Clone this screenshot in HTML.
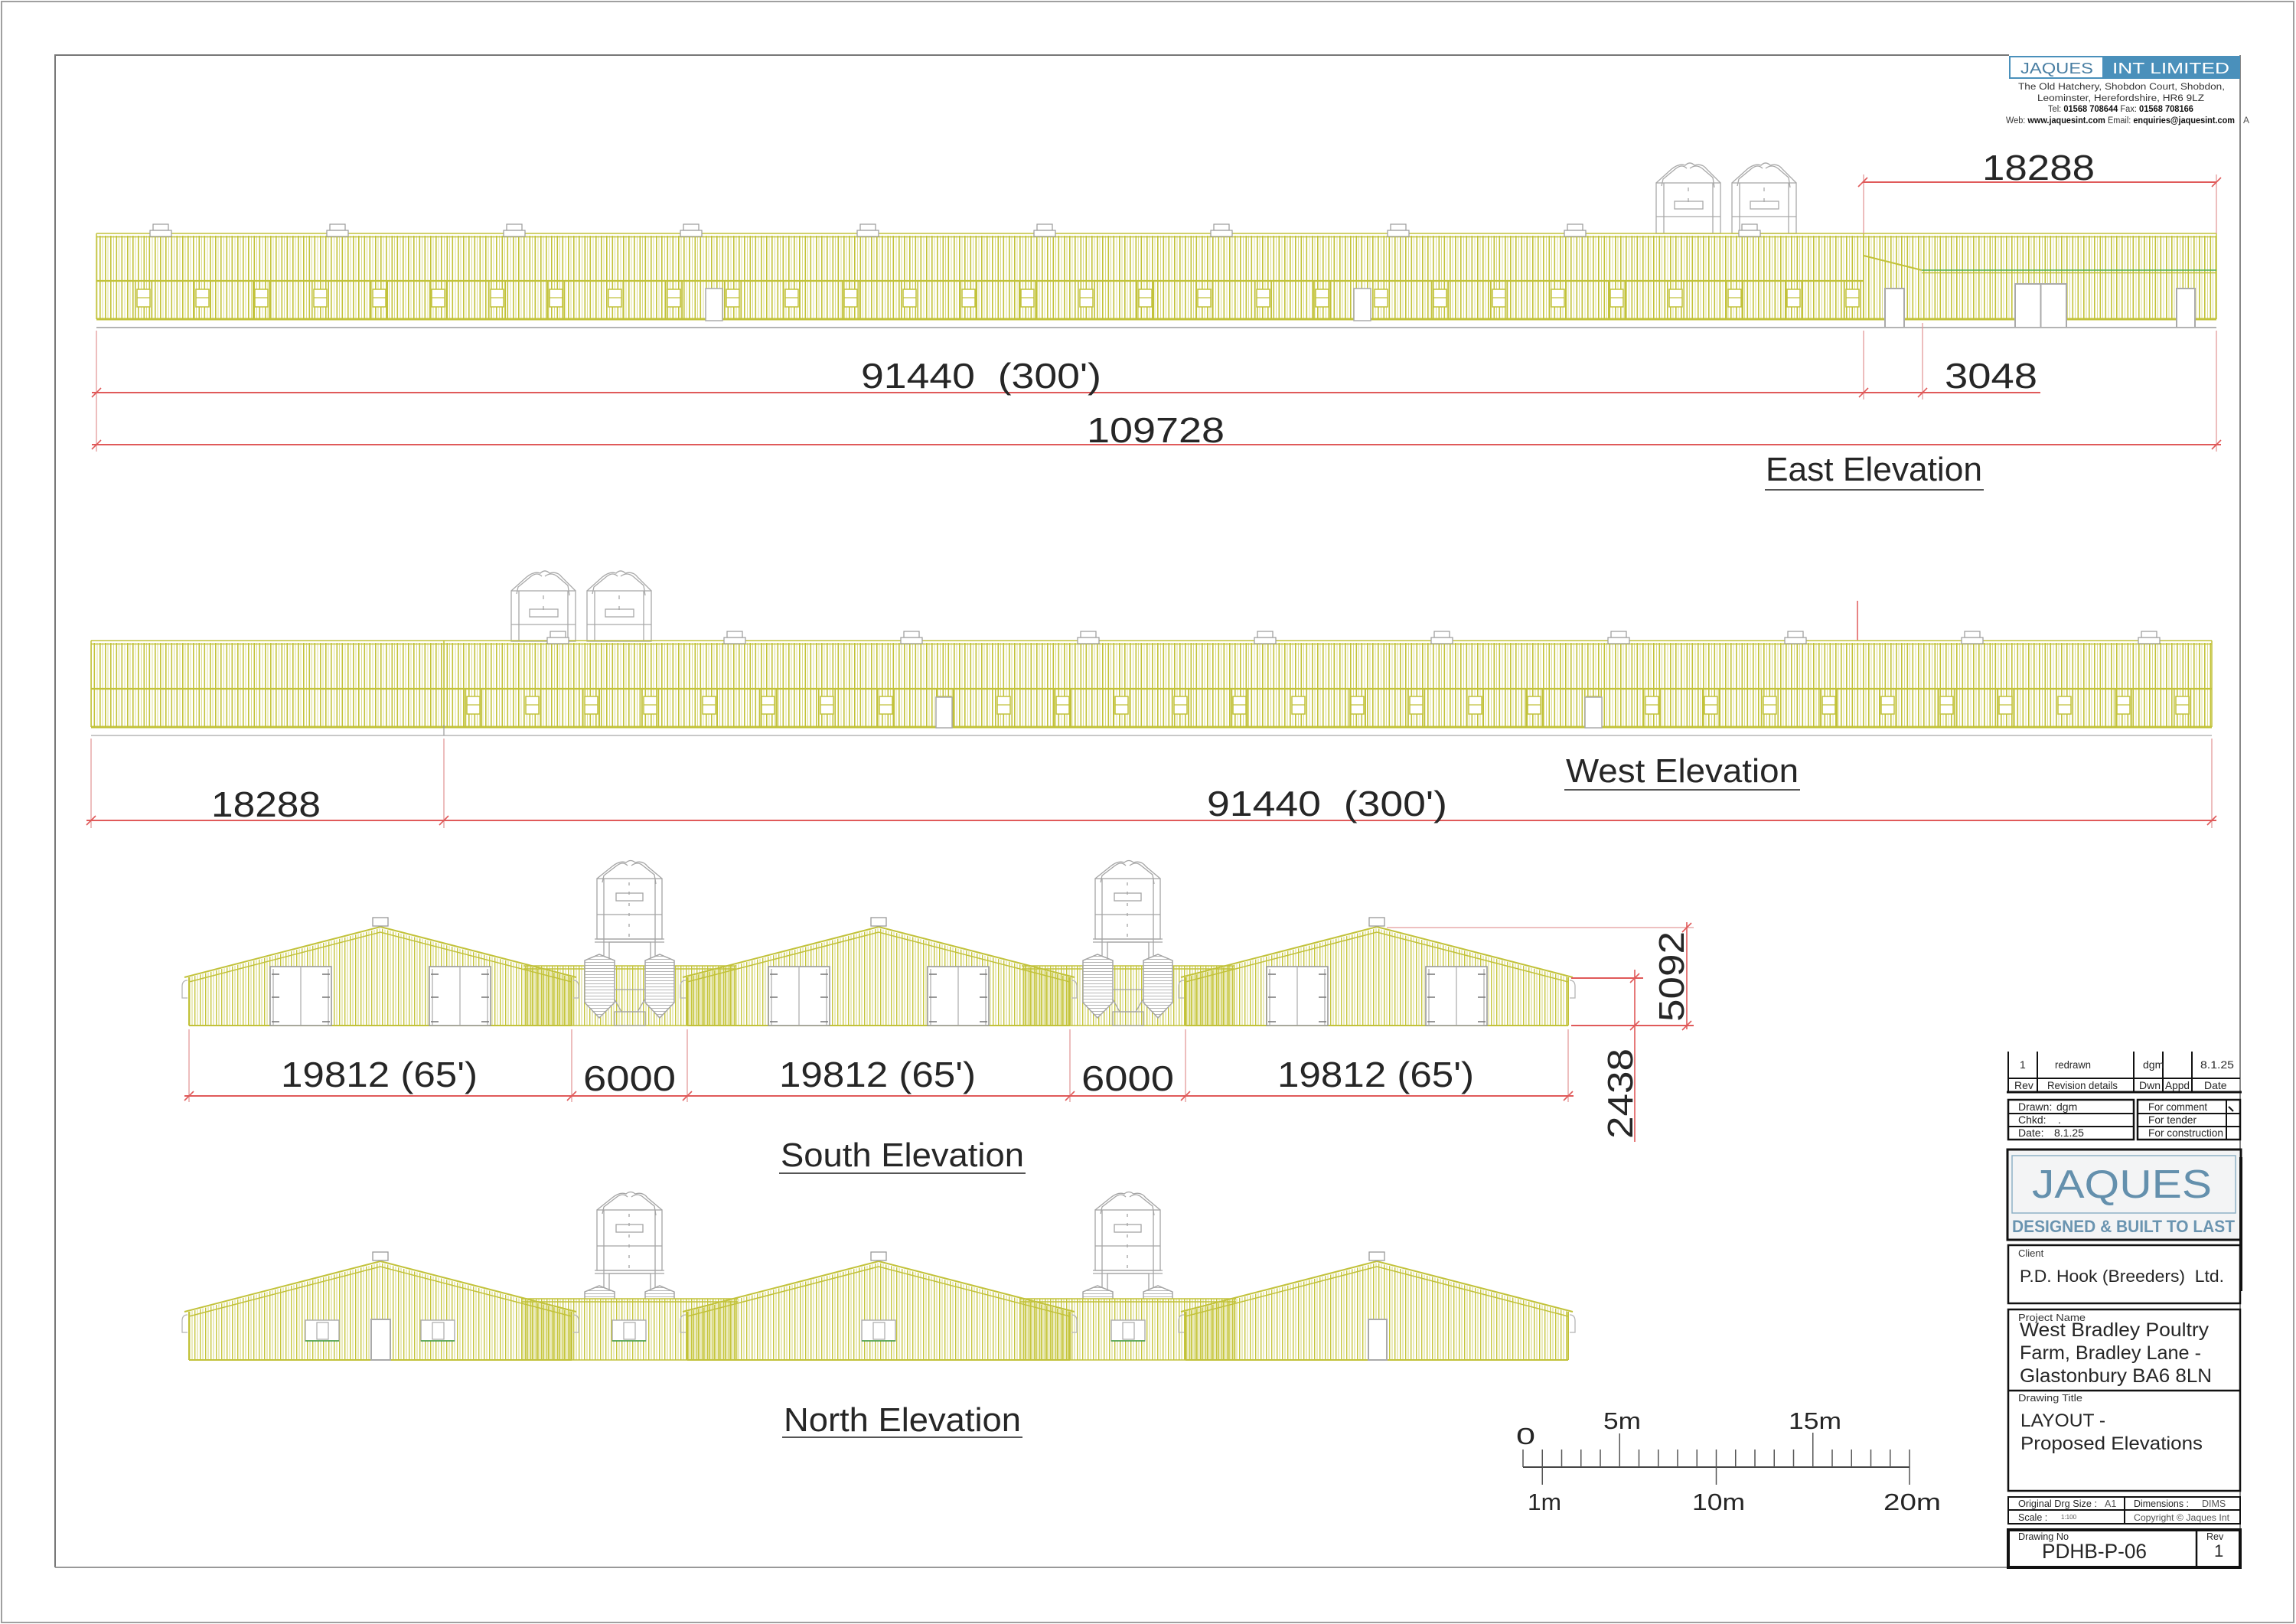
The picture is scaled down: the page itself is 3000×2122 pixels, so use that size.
<!DOCTYPE html>
<html><head><meta charset="utf-8"><style>
html,body{margin:0;padding:0;background:#fff}
svg{display:block}
.c{font-family:"Liberation Sans",sans-serif;fill:#262626}
.g{font-family:"Liberation Sans",sans-serif;fill:#333}
.s{font-family:"Liberation Sans",sans-serif;fill:#555}
</style></head><body>
<svg xmlns="http://www.w3.org/2000/svg" xmlns:xlink="http://www.w3.org/1999/xlink" width="3000" height="2122" viewBox="0 0 3000 2122">
<defs>
 <pattern id="pA" patternUnits="userSpaceOnUse" width="36" height="8">
  <rect x="0" width="1.6" height="8" fill="#c3c338"/>
  <rect x="4" width="1" height="8" fill="#dcdc8c"/>
  <rect x="7.5" width="1.6" height="8" fill="#c3c338"/>
  <rect x="11" width="1" height="8" fill="#dcdc8c"/>
  <rect x="14.5" width="1.6" height="8" fill="#c3c338"/>
  <rect x="18.5" width="1" height="8" fill="#e0e09a"/>
  <rect x="22" width="1.6" height="8" fill="#c3c338"/>
  <rect x="25.5" width="1" height="8" fill="#dcdc8c"/>
  <rect x="29" width="1.6" height="8" fill="#c3c338"/>
  <rect x="32.5" width="1" height="8" fill="#e0e09a"/>
 </pattern>
 <pattern id="pB" patternUnits="userSpaceOnUse" width="7" height="8">
  <rect x="0" width="1.4" height="8" fill="#c6c63c"/>
  <rect x="3.5" width="1" height="8" fill="#d6d67a"/>
 </pattern>
 <pattern id="pH" patternUnits="userSpaceOnUse" width="8" height="4">
  <rect x="0" y="0" width="8" height="1" fill="#b5b5b5"/>
 </pattern>
 <pattern id="winE" patternUnits="userSpaceOnUse" x="176" y="0" width="77" height="2122">
  <rect x="3" y="378" width="17" height="23" fill="#fff" stroke="#c2c23a" stroke-width="1.5"/>
  <line x1="3" y1="389" x2="20" y2="389" stroke="#c2c23a" stroke-width="1.2"/>
  <line x1="0.8" y1="367" x2="0.8" y2="417" stroke="#c2c23a" stroke-width="1.6"/>
  <line x1="22.2" y1="367" x2="22.2" y2="417" stroke="#c2c23a" stroke-width="1.6"/>
 </pattern>
 <pattern id="winW" patternUnits="userSpaceOnUse" x="607" y="0" width="77" height="2122">
  <rect x="3" y="910" width="17" height="23" fill="#fff" stroke="#c2c23a" stroke-width="1.5"/>
  <line x1="3" y1="921" x2="20" y2="921" stroke="#c2c23a" stroke-width="1.2"/>
  <line x1="0.8" y1="900" x2="0.8" y2="950" stroke="#c2c23a" stroke-width="1.6"/>
  <line x1="22.2" y1="900" x2="22.2" y2="950" stroke="#c2c23a" stroke-width="1.6"/>
 </pattern>
 <g id="siloE" fill="none" stroke="#a9a9a9" stroke-width="1.3">
  <rect x="0" y="27" width="84" height="66" fill="#fff"/>
  <path d="M0,27 L20,9 Q30,1 38,4 Q44,-2 50,4 Q60,1 66,9 L84,27"/>
  <path d="M7,31 L9,22 L26,8 Q34,2 40,8 M44,8 Q52,2 60,8 L74,20 L76,33"/>
  <path d="M10,27 V93 M74,27 V93 M0,71 H84"/>
  <rect x="24" y="51" width="37" height="10"/>
  <path d="M42,33 v5 M42,47 v5"/>
 </g>
 <g id="siloS" fill="none" stroke="#a5a5a5" stroke-width="1.3">
  <rect x="0" y="23" width="85" height="79" fill="#fff"/>
  <path d="M0,23 L20,7 Q30,-1 38,2 Q44,-3 50,2 Q60,-1 66,7 L85,23"/>
  <path d="M7,28 L9,19 L26,6 Q34,0 40,6 M45,6 Q53,0 60,6 L75,18 L77,30"/>
  <path d="M0,70 H85 M9,23 V150 M76,23 V150"/>
  <rect x="25" y="42" width="35" height="10"/>
  <path d="M42,28v4 M42,40v4 M42,55v4 M42,68v4 M42,82v4 M42,95v4"/>
  <path d="M-3,102 H88 M-3,106 H88"/>
  <rect x="16" y="106" width="54" height="62"/>
  <path d="M16,168 L32,197 H53 L70,168"/>
  <rect x="23" y="197" width="40" height="18"/>
  <path d="M-16,130 L3,122 L23,130 V185 L3,205 L-16,185 Z" fill="#fff"/>
  <path d="M-16,130 L3,122 L23,130 V185 L3,205 L-16,185 Z" fill="url(#pH)"/>
  <path d="M63,130 L82,122 L101,130 V185 L82,205 L63,185 Z" fill="#fff"/>
  <path d="M63,130 L82,122 L101,130 V185 L82,205 L63,185 Z" fill="url(#pH)"/>
 </g>
 <g id="gable">
  <polygon points="0,64 250,0 500,64 500,127 0,127" fill="url(#pB)"/>
  <polyline points="-6,64 250,-2 506,64" fill="none" stroke="#c2c23a" stroke-width="2"/>
  <polyline points="0,70 250,5 500,70" fill="none" stroke="#c2c23a" stroke-width="1.5"/>
  <path d="M0,64 V127 M500,64 V127 M0,127 H500" stroke="#c2c23a" stroke-width="2" fill="none"/>
  <path d="M-2,68 q-7,0 -7,8 v15 h7 M502,68 q7,0 7,8 v15 h-7" fill="none" stroke="#b5b5b5" stroke-width="1.3"/>
  <rect x="240" y="-14" width="20" height="11" fill="#fff" stroke="#999" stroke-width="1.3"/>
 </g>
 <g id="ddoor">
  <rect x="0" y="0" width="80" height="77" fill="#fff" stroke="#999" stroke-width="1.6"/>
  <path d="M40,0 V77 M4,3 V77 M76,3 V77" stroke="#aaa" stroke-width="1.2" fill="none"/>
  <path d="M2,10 h10 M2,40 h10 M2,72 h10 M68,10 h10 M68,40 h10 M68,72 h10" stroke="#777" stroke-width="1.6"/>
 </g>
 <g id="nwin">
  <rect x="0" y="0" width="44" height="27" fill="#fff" stroke="#aaa" stroke-width="1.4"/>
  <rect x="15" y="3" width="15" height="22" fill="none" stroke="#aaa" stroke-width="1.2"/>
  <line x1="0" y1="27" x2="44" y2="27" stroke="#3c9c3c" stroke-width="1.6"/>
 </g>
 <g id="chim">
  <rect x="-10" y="0" width="20" height="8" fill="#fff" stroke="#9a9a9a" stroke-width="1.2"/>
  <rect x="-14" y="8" width="28" height="8" fill="#fff" stroke="#9a9a9a" stroke-width="1.2"/>
 </g>
</defs>

<!-- borders -->
<rect x="2" y="2" width="2995" height="2118" fill="none" stroke="#a0a0a0" stroke-width="2"/>
<path d="M72,2048 V72 H2625" fill="none" stroke="#777" stroke-width="2"/>
<path d="M72,2048 H2623" fill="none" stroke="#999" stroke-width="2"/>
<path d="M2927,72 V2048" fill="none" stroke="#888" stroke-width="2"/>

<!-- ================= EAST ELEVATION ================= -->
<use xlink:href="#siloE" x="2164" y="212"/>
<use xlink:href="#siloE" x="2263" y="212"/>
<rect x="126" y="308" width="2770" height="109" fill="url(#pA)"/>
<path d="M126,305 H2896 M126,309.5 H2896" stroke="#c2c23a" stroke-width="1.5"/>
<path d="M126,367 H2435" stroke="#c2c23a" stroke-width="2.2"/>
<path d="M126,417 H2896" stroke="#c2c23a" stroke-width="3"/>
<path d="M126,305 V417 M2896,305 V417 M2435,305 V417" stroke="#c2c23a" stroke-width="1.5"/>
<rect x="176" y="360" width="2258" height="60" fill="url(#winE)"/>
<path d="M2435,334 L2511,353" stroke="#c2c23a" stroke-width="2"/>
<path d="M2511,353 H2896" stroke="#4caf50" stroke-width="1.6"/>
<path d="M2511,356.5 H2896" stroke="#c2c23a" stroke-width="1.5"/>
<rect x="922" y="377" width="22" height="42" fill="#fff" stroke="#aaa" stroke-width="1.5"/>
<rect x="1769" y="377" width="22" height="42" fill="#fff" stroke="#aaa" stroke-width="1.5"/>
<rect x="2463" y="377" width="25" height="51" fill="#fff" stroke="#aaa" stroke-width="2"/>
<rect x="2633" y="371" width="67" height="57" fill="#fff" stroke="#aaa" stroke-width="2"/>
<path d="M2666.5,371 V428" stroke="#aaa" stroke-width="2"/>
<rect x="2844" y="377" width="24" height="51" fill="#fff" stroke="#aaa" stroke-width="2"/>
<g>
<use xlink:href="#chim" x="210" y="293"/><use xlink:href="#chim" x="441" y="293"/><use xlink:href="#chim" x="672" y="293"/><use xlink:href="#chim" x="903" y="293"/><use xlink:href="#chim" x="1134" y="293"/><use xlink:href="#chim" x="1365" y="293"/><use xlink:href="#chim" x="1596" y="293"/><use xlink:href="#chim" x="1827" y="293"/><use xlink:href="#chim" x="2058" y="293"/><use xlink:href="#chim" x="2286" y="293"/>
</g>
<path d="M126,428 H2896" stroke="#b4b4b4" stroke-width="2"/>
<!-- east dims -->
<g stroke="#e39a9a" stroke-width="1.3" fill="none">
 <path d="M2435,228 V305 M2435,432 V522 M2896,228 V305 M2896,432 V590 M126,432 V590 M2512,422 V522"/>
</g>
<g stroke="#e05a5a" stroke-width="2" fill="none">
 <path d="M2434,238 H2896"/>
 <path d="M120,513 H2666"/>
 <path d="M120,581 H2902"/>
 <path d="M2428,244 L2440,232 M2890,244 L2902,232 M120,519 L132,507 M2429,519 L2441,507 M2506,519 L2518,507 M120,587 L132,575 M2890,587 L2902,575" stroke-width="1.6"/>
</g>
<text class="c" x="2590" y="235" font-size="46" textLength="147" lengthAdjust="spacingAndGlyphs">18288</text>
<text class="c" x="1125" y="507" font-size="46" textLength="314" lengthAdjust="spacingAndGlyphs">91440&#160;&#160;(300')</text>
<text class="c" x="2541" y="507" font-size="46" textLength="121" lengthAdjust="spacingAndGlyphs">3048</text>
<text class="c" x="1420" y="578" font-size="46" textLength="180" lengthAdjust="spacingAndGlyphs">109728</text>
<text class="c" x="2307" y="628" font-size="44" textLength="283" lengthAdjust="spacingAndGlyphs">East Elevation</text>
<path d="M2306,640 H2592" stroke="#555" stroke-width="2"/>

<!-- ================= WEST ELEVATION ================= -->
<use xlink:href="#siloE" x="668" y="745"/>
<use xlink:href="#siloE" x="767" y="745"/>
<path d="M2427,785 V837" stroke="#e05a5a" stroke-width="1.5"/>
<rect x="119" y="840" width="2771" height="110" fill="url(#pA)"/>
<path d="M119,837 H2890 M119,841.5 H2890" stroke="#c2c23a" stroke-width="1.5"/>
<path d="M119,900 H2890" stroke="#c2c23a" stroke-width="2.2"/>
<path d="M119,950 H2890" stroke="#c2c23a" stroke-width="3"/>
<path d="M119,837 V950 M2890,837 V950 M580,837 V950" stroke="#c2c23a" stroke-width="1.5"/>
<rect x="607" y="895" width="2257" height="60" fill="url(#winW)"/>
<rect x="1223" y="911" width="21" height="40" fill="#fff" stroke="#aaa" stroke-width="1.5"/>
<rect x="2071" y="911" width="22" height="40" fill="#fff" stroke="#aaa" stroke-width="1.5"/>
<g>
<use xlink:href="#chim" x="729" y="825"/><use xlink:href="#chim" x="960" y="825"/><use xlink:href="#chim" x="1191" y="825"/><use xlink:href="#chim" x="1422" y="825"/><use xlink:href="#chim" x="1653" y="825"/><use xlink:href="#chim" x="1884" y="825"/><use xlink:href="#chim" x="2115" y="825"/><use xlink:href="#chim" x="2346" y="825"/><use xlink:href="#chim" x="2577" y="825"/><use xlink:href="#chim" x="2808" y="825"/>
</g>
<path d="M119,961 H2890" stroke="#c8c8c8" stroke-width="2"/>
<path d="M580,947 V961" stroke="#999" stroke-width="1.2"/>
<g stroke="#e39a9a" stroke-width="1.3" fill="none">
 <path d="M119,965 V1082 M580,965 V1082 M2890,965 V1082"/>
</g>
<g stroke="#e05a5a" stroke-width="2" fill="none">
 <path d="M113,1072 H2896"/>
 <path d="M113,1078 L125,1066 M574,1078 L586,1066 M2884,1078 L2896,1066" stroke-width="1.6"/>
</g>
<text class="c" x="276" y="1067" font-size="46" textLength="143" lengthAdjust="spacingAndGlyphs">18288</text>
<text class="c" x="1577" y="1066" font-size="46" textLength="314" lengthAdjust="spacingAndGlyphs">91440&#160;&#160;(300')</text>
<text class="c" x="2046" y="1022" font-size="44" textLength="304" lengthAdjust="spacingAndGlyphs">West Elevation</text>
<path d="M2044,1032 H2352" stroke="#555" stroke-width="2"/>

<!-- ================= SOUTH ELEVATION ================= -->
<rect x="684" y="1262" width="277" height="78" fill="url(#pB)"/>
<rect x="1335" y="1262" width="277" height="78" fill="url(#pB)"/>
<use xlink:href="#gable" transform="translate(247,1213)"/>
<use xlink:href="#gable" transform="translate(898,1213)"/>
<use xlink:href="#gable" transform="translate(1549,1213)"/>
<path d="M684,1262 H961 M684,1266 H961 M1335,1262 H1612 M1335,1266 H1612 M747,1340 H898 M1398,1340 H1549" stroke="#c2c23a" stroke-width="1.6"/>
<use xlink:href="#ddoor" x="353" y="1263"/>
<use xlink:href="#ddoor" x="561" y="1263"/>
<use xlink:href="#ddoor" x="1004" y="1263"/>
<use xlink:href="#ddoor" x="1212" y="1263"/>
<use xlink:href="#ddoor" x="1655" y="1263"/>
<use xlink:href="#ddoor" x="1863" y="1263"/>
<use xlink:href="#siloS" x="780" y="1125"/>
<use xlink:href="#siloS" x="1431" y="1125"/>
<g stroke="#e39a9a" stroke-width="1.3" fill="none">
 <path d="M247,1345 V1440 M747,1345 V1440 M898,1345 V1440 M1398,1345 V1440 M1549,1345 V1440 M2049,1345 V1440"/>
 <path d="M1812,1212 H2213"/>
</g>
<g stroke="#e05a5a" stroke-width="2" fill="none">
 <path d="M241,1432 H2056"/>
 <path d="M2053,1278 H2147 M2053,1340 H2213"/>
 <path d="M2136,1267 V1492 M2204,1205 V1345" stroke-width="1.6"/>
 <path d="M241,1438 L253,1426 M741,1438 L753,1426 M892,1438 L904,1426 M1392,1438 L1404,1426 M1543,1438 L1555,1426 M2043,1438 L2055,1426 M2130,1284 L2142,1272 M2130,1346 L2142,1334 M2198,1218 L2210,1206 M2198,1346 L2210,1334" stroke-width="1.6"/>
</g>
<text class="c" x="367" y="1420" font-size="46" textLength="257" lengthAdjust="spacingAndGlyphs">19812 (65')</text>
<text class="c" x="1018" y="1420" font-size="46" textLength="257" lengthAdjust="spacingAndGlyphs">19812 (65')</text>
<text class="c" x="1669" y="1420" font-size="46" textLength="257" lengthAdjust="spacingAndGlyphs">19812 (65')</text>
<text class="c" x="762" y="1425" font-size="46" textLength="121" lengthAdjust="spacingAndGlyphs">6000</text>
<text class="c" x="1413" y="1425" font-size="46" textLength="121" lengthAdjust="spacingAndGlyphs">6000</text>
<text class="c" font-size="46" textLength="118" lengthAdjust="spacingAndGlyphs" transform="translate(2200,1335) rotate(-90)">5092</text>
<text class="c" font-size="46" textLength="118" lengthAdjust="spacingAndGlyphs" transform="translate(2133,1488) rotate(-90)">2438</text>
<text class="c" x="1020" y="1524" font-size="44" textLength="318" lengthAdjust="spacingAndGlyphs">South Elevation</text>
<path d="M1018,1533 H1340" stroke="#555" stroke-width="2"/>

<!-- ================= NORTH ELEVATION ================= -->
<use xlink:href="#siloS" x="780" y="1558"/>
<use xlink:href="#siloS" x="1431" y="1558"/>
<rect x="681" y="1697" width="283" height="80" fill="#fff"/>
<rect x="1332" y="1697" width="283" height="80" fill="#fff"/>
<rect x="681" y="1697" width="283" height="80" fill="url(#pB)"/>
<rect x="1332" y="1697" width="283" height="80" fill="url(#pB)"/>
<use xlink:href="#gable" transform="translate(247,1650)"/>
<use xlink:href="#gable" transform="translate(898,1650)"/>
<use xlink:href="#gable" transform="translate(1549,1650)"/>
<path d="M681,1697 H964 M681,1701 H964 M1332,1697 H1615 M1332,1701 H1615 M747,1777 H898 M1398,1777 H1549" stroke="#c2c23a" stroke-width="1.6"/>
<use xlink:href="#nwin" x="399" y="1725"/>
<use xlink:href="#nwin" x="550" y="1725"/>
<use xlink:href="#nwin" x="800" y="1725"/>
<use xlink:href="#nwin" x="1126" y="1725"/>
<use xlink:href="#nwin" x="1452" y="1725"/>
<rect x="485" y="1724" width="25" height="53" fill="#fff" stroke="#aaa" stroke-width="2"/>
<rect x="1788" y="1724" width="24" height="53" fill="#fff" stroke="#aaa" stroke-width="2"/>
<text class="c" x="1024" y="1870" font-size="44" textLength="310" lengthAdjust="spacingAndGlyphs">North Elevation</text>
<path d="M1022,1878 H1336" stroke="#555" stroke-width="2"/>

<!-- ================= SCALE BAR ================= -->
<path d="M1990,1917 H2495" stroke="#444" stroke-width="2"/>
<path d="M1990,1894V1917 M2015.25,1894V1940 M2040.5,1894V1917 M2065.75,1894V1917 M2091,1894V1917 M2116.25,1873V1917 M2141.5,1894V1917 M2166.75,1894V1917 M2192,1894V1917 M2217.25,1894V1917 M2242.5,1894V1940 M2267.75,1894V1917 M2293,1894V1917 M2318.25,1894V1917 M2343.5,1894V1917 M2368.75,1872V1917 M2394,1894V1917 M2419.25,1894V1917 M2444.5,1894V1917 M2469.75,1894V1917 M2495,1894V1940" stroke="#555" stroke-width="1.5"/>
<text class="c" x="1981" y="1887" font-size="31" textLength="25" lengthAdjust="spacingAndGlyphs">0</text>
<text class="c" x="2095" y="1867" font-size="31" textLength="49" lengthAdjust="spacingAndGlyphs">5m</text>
<text class="c" x="2337" y="1867" font-size="31" textLength="69" lengthAdjust="spacingAndGlyphs">15m</text>
<text class="c" x="1996" y="1973" font-size="31" textLength="44" lengthAdjust="spacingAndGlyphs">1m</text>
<text class="c" x="2211" y="1973" font-size="31" textLength="69" lengthAdjust="spacingAndGlyphs">10m</text>
<text class="c" x="2461" y="1973" font-size="31" textLength="75" lengthAdjust="spacingAndGlyphs">20m</text>

<!-- ================= HEADER LOGO ================= -->
<rect x="2625" y="73" width="302" height="30" fill="#4a90bb"/>
<rect x="2627" y="75" width="120" height="26" fill="#fff"/>
<text x="2640" y="96" font-size="20" textLength="95" lengthAdjust="spacingAndGlyphs" style="font-family:'Liberation Sans',sans-serif;fill:#4a7fa3">JAQUES</text>
<text x="2760" y="96" font-size="20" textLength="153" lengthAdjust="spacingAndGlyphs" style="font-family:'Liberation Sans',sans-serif;fill:#fff">INT LIMITED</text>
<text class="g" x="2637" y="117" font-size="11.5" textLength="270" lengthAdjust="spacingAndGlyphs">The Old Hatchery, Shobdon Court, Shobdon,</text>
<text class="g" x="2662" y="132" font-size="11.5" textLength="218" lengthAdjust="spacingAndGlyphs">Leominster, Herefordshire, HR6 9LZ</text>
<text class="g" x="2676" y="146" font-size="11.5" textLength="190" lengthAdjust="spacingAndGlyphs">Tel: <tspan font-weight="bold" fill="#111">01568 708644</tspan> Fax: <tspan font-weight="bold" fill="#111">01568 708166</tspan></text>
<text class="g" x="2621" y="161" font-size="11.5" textLength="299" lengthAdjust="spacingAndGlyphs">Web: <tspan font-weight="bold" fill="#111">www.jaquesint.com</tspan> Email: <tspan font-weight="bold" fill="#111">enquiries@jaquesint.com</tspan></text>
<text class="s" x="2931" y="161" font-size="12">A</text>

<!-- ================= TITLE BLOCK ================= -->
<g stroke="#111" stroke-width="2" fill="none">
 <path d="M2624,1374 V1427 M2662,1374 V1427 M2788,1374 V1427 M2826,1374 V1427 M2864,1374 V1427"/>
 <path d="M2624,1409 H2927"/>
 <path d="M2622,1427 H2929" stroke-width="3"/>
 <rect x="2624" y="1437" width="164" height="52" stroke-width="2.5"/>
 <path d="M2624,1455 H2788 M2624,1472 H2788"/>
 <rect x="2793" y="1437" width="134" height="52" stroke-width="2.5"/>
 <path d="M2793,1455 H2927 M2793,1472 H2927 M2909,1437 V1489"/>
</g>
<path d="M2912,1446 L2918,1452" stroke="#111" stroke-width="2"/>
<text class="c" x="2639" y="1396" font-size="14">1</text>
<text class="c" x="2685" y="1396" font-size="14" textLength="47" lengthAdjust="spacingAndGlyphs">redrawn</text>
<text class="c" x="2800" y="1396" font-size="14">dgm</text>
<text class="c" x="2875" y="1396" font-size="14" textLength="44" lengthAdjust="spacingAndGlyphs">8.1.25</text>
<text class="c" x="2632" y="1423" font-size="14">Rev</text>
<text class="c" x="2675" y="1423" font-size="14" textLength="92" lengthAdjust="spacingAndGlyphs">Revision details</text>
<text class="c" x="2795" y="1423" font-size="14">Dwn</text>
<text class="c" x="2829" y="1423" font-size="14" textLength="32" lengthAdjust="spacingAndGlyphs">Appd</text>
<text class="c" x="2880" y="1423" font-size="14">Date</text>
<text class="c" x="2637" y="1451" font-size="14">Drawn:</text>
<text class="c" x="2687" y="1451" font-size="14">dgm</text>
<text class="c" x="2637" y="1468" font-size="14">Chkd:</text>
<text class="c" x="2689" y="1468" font-size="14">.</text>
<text class="c" x="2637" y="1485" font-size="14">Date:</text>
<text class="c" x="2684" y="1485" font-size="14">8.1.25</text>
<text class="c" x="2807" y="1451" font-size="14" textLength="77" lengthAdjust="spacingAndGlyphs">For comment</text>
<text class="c" x="2807" y="1468" font-size="14" textLength="63" lengthAdjust="spacingAndGlyphs">For tender</text>
<text class="c" x="2807" y="1485" font-size="14" textLength="98" lengthAdjust="spacingAndGlyphs">For construction</text>

<rect x="2623" y="1502" width="305" height="118" fill="#f3f4f5" stroke="#111" stroke-width="3"/>
<rect x="2629" y="1510" width="292" height="75" fill="none" stroke="#8eb1c6" stroke-width="1.5"/>
<text x="2655" y="1565" font-size="52" textLength="235" lengthAdjust="spacingAndGlyphs" style="font-family:'Liberation Sans',sans-serif;fill:#6490ad">JAQUES</text>
<text x="2629" y="1610" font-size="22" font-weight="bold" textLength="291" lengthAdjust="spacingAndGlyphs" style="font-family:'Liberation Sans',sans-serif;fill:#6a94b0">DESIGNED &amp; BUILT TO LAST</text>
<path d="M2928,1512 V1687" stroke="#111" stroke-width="4"/>

<rect x="2624" y="1627" width="303" height="76" fill="none" stroke="#111" stroke-width="2.5"/>
<text class="g" x="2637" y="1642" font-size="13">Client</text>
<text class="c" x="2639" y="1675" font-size="22" textLength="267" lengthAdjust="spacingAndGlyphs">P.D. Hook (Breeders)&#160;&#160;Ltd.</text>

<rect x="2624" y="1711" width="303" height="237" fill="none" stroke="#111" stroke-width="2.5"/>
<path d="M2624,1817 H2927" stroke="#111" stroke-width="2.5"/>
<text class="g" x="2637" y="1726" font-size="13" textLength="88" lengthAdjust="spacingAndGlyphs">Project Name</text>
<text class="c" x="2639" y="1746" font-size="25" textLength="247" lengthAdjust="spacingAndGlyphs">West Bradley Poultry</text>
<text class="c" x="2639" y="1776" font-size="25" textLength="237" lengthAdjust="spacingAndGlyphs">Farm, Bradley Lane -</text>
<text class="c" x="2639" y="1806" font-size="25" textLength="251" lengthAdjust="spacingAndGlyphs">Glastonbury BA6 8LN</text>
<text class="g" x="2637" y="1831" font-size="13" textLength="84" lengthAdjust="spacingAndGlyphs">Drawing Title</text>
<text class="c" x="2640" y="1864" font-size="24" textLength="111" lengthAdjust="spacingAndGlyphs">LAYOUT -</text>
<text class="c" x="2640" y="1894" font-size="24" textLength="238" lengthAdjust="spacingAndGlyphs">Proposed Elevations</text>

<rect x="2624" y="1956" width="303" height="35" fill="none" stroke="#111" stroke-width="2"/>
<path d="M2624,1973 H2927 M2776,1956 V1991" stroke="#111" stroke-width="2"/>
<text class="c" x="2637" y="1969" font-size="12.5" textLength="103" lengthAdjust="spacingAndGlyphs">Original Drg Size :</text>
<text class="s" x="2750" y="1969" font-size="12.5">A1</text>
<text class="c" x="2788" y="1969" font-size="12.5" textLength="72" lengthAdjust="spacingAndGlyphs">Dimensions :</text>
<text class="s" x="2877" y="1969" font-size="12.5">DIMS</text>
<text class="c" x="2637" y="1987" font-size="12.5">Scale :</text>
<text class="s" x="2693" y="1985" font-size="8">1:100</text>
<text class="s" x="2788" y="1987" font-size="12" textLength="125" lengthAdjust="spacingAndGlyphs">Copyright © Jaques Int</text>

<rect x="2624" y="1999" width="303" height="49" fill="none" stroke="#111" stroke-width="4"/>
<path d="M2870,1999 V2048" stroke="#111" stroke-width="2.5"/>
<text class="c" x="2637" y="2012" font-size="12.5" textLength="66" lengthAdjust="spacingAndGlyphs">Drawing No</text>
<text class="c" x="2668" y="2036" font-size="27" textLength="137" lengthAdjust="spacingAndGlyphs">PDHB-P-06</text>
<text class="c" x="2883" y="2012" font-size="12.5">Rev</text>
<text class="c" x="2893" y="2034" font-size="22">1</text>
</svg>
</body></html>
